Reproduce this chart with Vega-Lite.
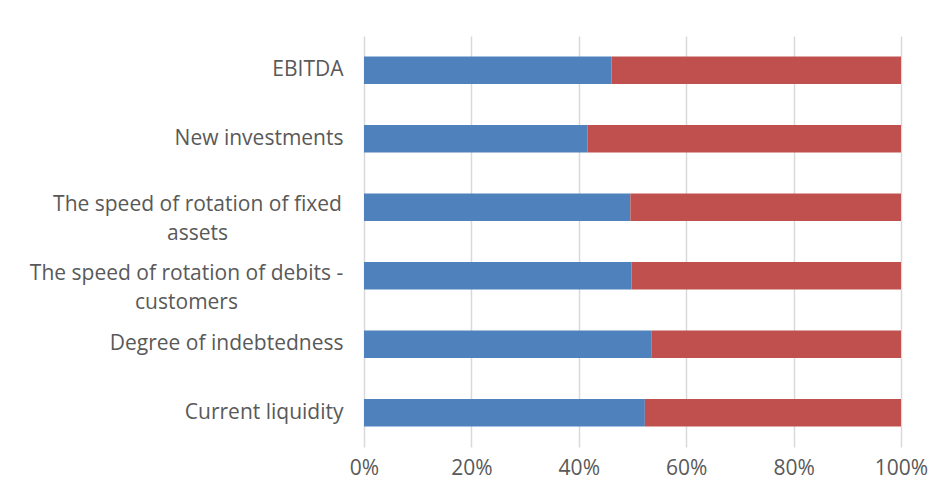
{
  "$schema": "https://vega.github.io/schema/vega-lite/v6.json",
  "autosize": "none",
  "width": 537,
  "height": 411,
  "padding": {"left": 364, "top": 36, "right": 30, "bottom": 39},
  "background": "white",
  "data": {
    "values": [
      {"category": "EBITDA", "series": "Series 1", "order": 1, "value": 46.1},
      {"category": "EBITDA", "series": "Series 2", "order": 2, "value": 53.9},
      {"category": "New investments", "series": "Series 1", "order": 1, "value": 41.6},
      {"category": "New investments", "series": "Series 2", "order": 2, "value": 58.4},
      {"category": "The speed of rotation of fixed|assets", "series": "Series 1", "order": 1, "value": 49.6},
      {"category": "The speed of rotation of fixed|assets", "series": "Series 2", "order": 2, "value": 50.4},
      {"category": "The speed of rotation of debits -|customers", "series": "Series 1", "order": 1, "value": 49.8},
      {"category": "The speed of rotation of debits -|customers", "series": "Series 2", "order": 2, "value": 50.2},
      {"category": "Degree of indebtedness", "series": "Series 1", "order": 1, "value": 53.5},
      {"category": "Degree of indebtedness", "series": "Series 2", "order": 2, "value": 46.5},
      {"category": "Current liquidity", "series": "Series 1", "order": 1, "value": 52.3},
      {"category": "Current liquidity", "series": "Series 2", "order": 2, "value": 47.7}
    ]
  },
  "mark": {"type": "bar"},
  "encoding": {
    "y": {
      "field": "category",
      "type": "nominal",
      "sort": null,
      "scale": {"paddingInner": 0.6, "paddingOuter": 0.3},
      "axis": {
        "title": null,
        "domain": false,
        "ticks": false,
        "labelExpr": "split(datum.value, '|')",
        "labelAlign": {"condition": {"test": "indexof(datum.value, '|') >= 0", "value": "center"}, "value": "right"},
        "labelPadding": {"condition": [
          {"test": "indexof(datum.value, 'fixed') >= 0", "value": 167},
          {"test": "indexof(datum.value, 'debits') >= 0", "value": 178}
        ], "value": 21},
        "labelOffset": {"condition": {"test": "indexof(datum.value, '|') >= 0", "value": -2}, "value": 0},
        "labelFont": "Open Sans",
        "labelFontSize": 21,
        "labelColor": "#595959",
        "labelLineHeight": 29,
        "labelLimit": 400
      }
    },
    "x": {
      "field": "value",
      "type": "quantitative",
      "stack": "normalize",
      "scale": {"domain": [0, 1]},
      "axis": {
        "title": null,
        "format": ".0%",
        "values": [0, 0.2, 0.4, 0.6, 0.8, 1],
        "domain": false,
        "ticks": false,
        "labelFlush": false,
        "labelOverlap": false,
        "labelBound": false,
        "labelPadding": 10,
        "labelFont": "Open Sans",
        "labelFontSize": 21,
        "labelColor": "#595959",
        "gridColor": "#d9d9d9",
        "gridWidth": 1.5
      }
    },
    "color": {
      "field": "series",
      "type": "nominal",
      "scale": {"domain": ["Series 1", "Series 2"], "range": ["#4F81BD", "#C0504D"]},
      "legend": null
    },
    "order": {"field": "order", "type": "quantitative"}
  },
  "config": {"view": {"stroke": null}}
}
